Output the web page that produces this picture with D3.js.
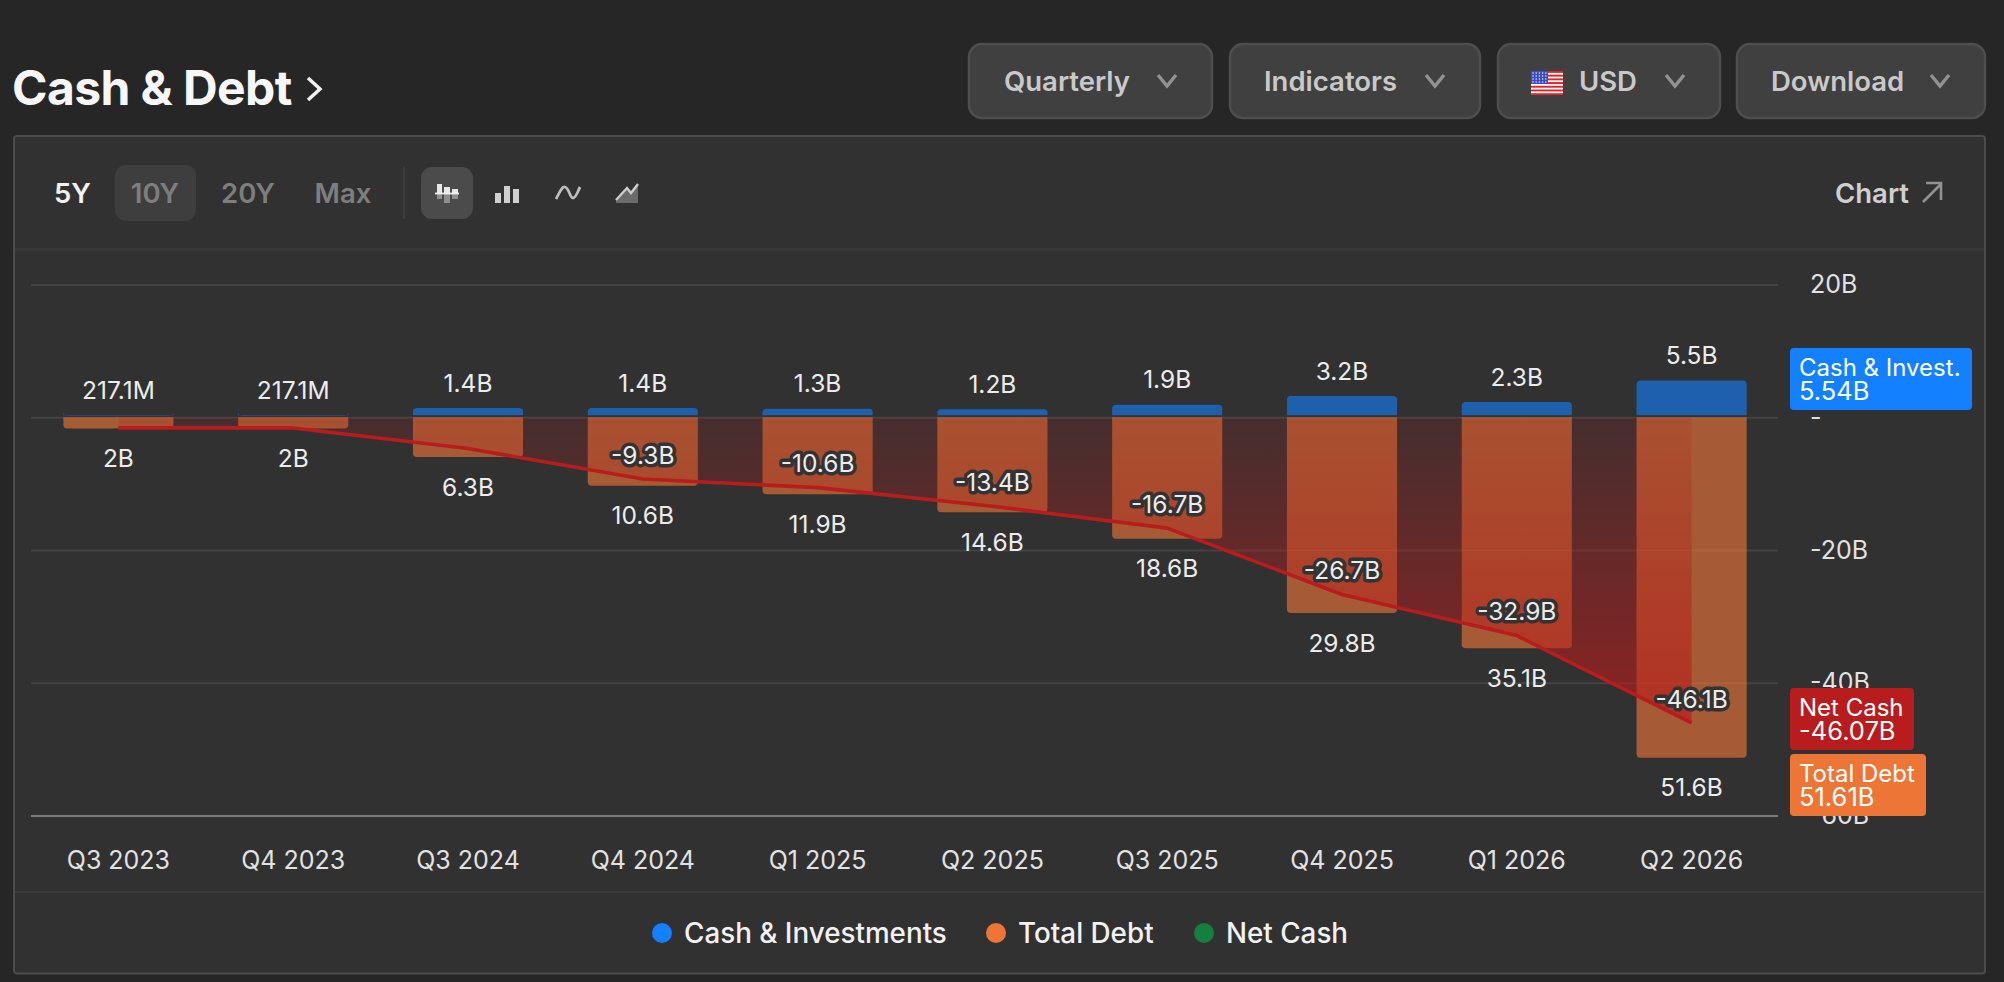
<!DOCTYPE html>
<html>
<head>
<meta charset="utf-8">
<title>Cash & Debt</title>
<script src="https://cdn.jsdelivr.net/npm/d3@7"></script>
<style>
  html, body { margin: 0; padding: 0; background: #262626; overflow: hidden; }
  svg { display: block; font-family: Inter, "Noto Sans", sans-serif; }
  .axis text { fill: #e2e2e2; font-size: 25px; font-family: Inter, sans-serif; }
  .chrome { font-weight: 600; font-size: 27.5px; }
</style>
</head>
<body>
<svg></svg>
<script>
const quarters = ["Q3 2023", "Q4 2023", "Q3 2024", "Q4 2024", "Q1 2025", "Q2 2025", "Q3 2025", "Q4 2025", "Q1 2026", "Q2 2026"];
const cashValues = [0.2171, 0.2171, 1.4, 1.4, 1.3, 1.2, 1.9, 3.2, 2.3, 5.54];
const debtValues = [2, 2, 6.3, 10.6, 11.9, 14.6, 18.6, 29.8, 35.1, 51.61];
const netValues = [-1.6, -1.6, -4.7, -9.3, -10.6, -13.4, -16.7, -26.7, -32.9, -46.07];

const cashLabels = ["217.1M", "217.1M", "1.4B", "1.4B", "1.3B", "1.2B", "1.9B", "3.2B", "2.3B", "5.5B"];
const debtLabels = ["2B", "2B", "6.3B", "10.6B", "11.9B", "14.6B", "18.6B", "29.8B", "35.1B", "51.6B"];
const netLabels = ["", "", "", "-9.3B", "-10.6B", "-13.4B", "-16.7B", "-26.7B", "-32.9B", "-46.1B"];

const yTicks = [20, 0, -20, -40, -60];
const yTickLabels = ["20B", "-", "-20B", "-40B", "-60B"];

const headerButtons = ["Quarterly", "Indicators", "USD", "Download"];
const rangeButtons = ["5Y", "10Y", "20Y", "Max"];
const legendItems = ["Cash & Investments", "Total Debt", "Net Cash"];

const blue = "#1280ff";
const orange = "#ed7637";
const red = "#b91c1c";
const green = "#15803d";

const svg = d3.select("svg").attr("width", 2004).attr("height", 982);

// panel + page furniture
svg.append("rect").attr("width", 2004).attr("height", 982).attr("fill", "#262626");
svg.append("rect")
  .attr("x", 14).attr("y", 136).attr("width", 1971).attr("height", 837.5).attr("rx", 3)
  .attr("fill", "#313131").attr("stroke", "#4c4c4c").attr("stroke-width", 2);
[249.5, 892].forEach((y) => {
  svg.append("line").attr("x1", 15).attr("x2", 1984).attr("y1", y).attr("y2", y)
    .attr("stroke", "#3c3c3c").attr("stroke-width", 2);
});

// title
svg.append("text").attr("x", 12).attr("y", 105)
  .attr("fill", "#f7f7f7").attr("font-size", 48).attr("font-weight", 700).attr("letter-spacing", -0.6)
  .text("Cash & Debt");
svg.append("path").attr("d", "M308 78 L320 89 L308 100")
  .attr("fill", "none").attr("stroke", "#f2f2f2").attr("stroke-width", 3.5);

// header dropdowns
const buttonBoxes = [[969, 243, 1004], [1230, 250, 1264], [1498, 222, 1579], [1737, 248, 1771]];
const chevron = (g, cx, cy, stroke) => {
  g.append("path").attr("d", `M${cx - 9} ${cy - 6} L${cx} ${cy + 5} L${cx + 9} ${cy - 6}`)
    .attr("fill", "none").attr("stroke", stroke).attr("stroke-width", 3.4);
};
headerButtons.forEach((label, i) => {
  const [bx, bw, tx] = buttonBoxes[i];
  svg.append("rect").attr("x", bx).attr("y", 44).attr("width", bw).attr("height", 74).attr("rx", 13)
    .attr("fill", "#404040").attr("stroke", "#4e4e4e").attr("stroke-width", 2.5);
  svg.append("text").attr("class", "chrome").attr("x", tx).attr("y", 81.5)
    .attr("dy", "0.35em").attr("fill", "#c9c9c9").text(label);
  chevron(svg, bx + bw - 45, 81, "#929292");
});

// little US flag
const flag = svg.append("g").attr("transform", "translate(1531,71)");
flag.append("rect").attr("width", 32).attr("height", 24).attr("fill", "#fff");
d3.range(0, 7).forEach((i) => {
  flag.append("rect").attr("y", i * 3.7).attr("width", 32).attr("height", 1.9).attr("fill", "#e0242c");
});
flag.append("rect").attr("width", 17).attr("height", 13).attr("fill", "#3a4cc0");
d3.range(0, 4).forEach((r) => d3.range(0, 5).forEach((c) => {
  flag.append("circle").attr("cx", 2 + c * 3.2).attr("cy", 2 + r * 3).attr("r", 0.8).attr("fill", "#dfe4ff");
}));

// toolbar
svg.append("rect").attr("x", 115).attr("y", 165).attr("width", 81).attr("height", 56).attr("rx", 11).attr("fill", "#3e3e3e");
svg.append("rect").attr("x", 421).attr("y", 167).attr("width", 52).attr("height", 52).attr("rx", 11).attr("fill", "#4b4b4b");
svg.append("line").attr("x1", 404).attr("x2", 404).attr("y1", 167).attr("y2", 219).attr("stroke", "#434343").attr("stroke-width", 1.5);
const rangeX = [72.5, 155, 248, 343];
rangeButtons.forEach((label, i) => {
  svg.append("text").attr("class", "chrome").attr("x", rangeX[i]).attr("y", 193.5)
    .attr("dy", "0.35em").attr("text-anchor", "middle")
    .attr("fill", i === 0 ? "#f2f2f2" : "#7e7e7e").text(label);
});

// toolbar icons
[[437, 184, 5, 6], [444, 187, 6, 10], [452, 189, 6, 6]].forEach(([x, y, w, low]) => {
  svg.append("rect").attr("x", x).attr("y", y).attr("width", w).attr("height", 193 - y).attr("fill", "#e8e8e8");
  svg.append("rect").attr("x", x).attr("y", 193).attr("width", w).attr("height", low).attr("fill", "#8e8e8e");
});
svg.append("line").attr("x1", 435).attr("x2", 459).attr("y1", 193.5).attr("y2", 193.5).attr("stroke", "#f2f2f2").attr("stroke-width", 1.8);
[[495, 193], [504, 186], [513, 189]].forEach(([x, y]) => {
  svg.append("rect").attr("x", x).attr("y", y).attr("width", 6).attr("height", 203 - y).attr("fill", "#d0d0d0");
});
svg.append("path").attr("d", "M556 199 C560 192 562 186 565 187 C569 188 570 198 573 198 C576 198 578 191 580 187")
  .attr("fill", "none").attr("stroke", "#bdbdbd").attr("stroke-width", 2.8);
svg.append("path").attr("d", "M616 203 L616 200 L627 188 L631 193 L638 184 L638 203 Z").attr("fill", "#6b6b6b");
svg.append("path").attr("d", "M616 200 L627 188 L631 193 L638 184")
  .attr("fill", "none").attr("stroke", "#cdcdcd").attr("stroke-width", 2.4);

svg.append("text").attr("class", "chrome").attr("x", 1835).attr("y", 193.5).attr("dy", "0.35em").attr("fill", "#cfcfcf").text("Chart");
svg.append("path").attr("d", "M1923 202 L1941 184 M1926 183 L1941 183 L1941 200")
  .attr("fill", "none").attr("stroke", "#929292").attr("stroke-width", 2.6);

// chart
const x = d3.scaleBand().domain(quarters).range([31, 1779]).paddingInner(0.37).paddingOuter(0.185);
const y = d3.scaleLinear().domain([-60, 20]).range([815.4, 284.6]);
const cx = (i) => x(quarters[i]) + x.bandwidth() / 2;
const gap = 2;

const yAxis = d3.axisRight(y)
  .tickValues(yTicks)
  .tickFormat((d, i) => yTickLabels[i])
  .tickSize(-1747)
  .tickPadding(32);
const yAxisG = svg.append("g").attr("class", "axis").attr("transform", "translate(1778,0)").call(yAxis);
yAxisG.selectAll(".domain").remove();
yAxisG.selectAll(".tick line").attr("stroke", (d) => (d === -60 ? "#7a7a7a" : "#434343")).attr("stroke-width", 2);

const xAxis = d3.axisBottom(x).tickSize(0).tickPadding(0);
const xAxisG = svg.append("g").attr("class", "axis").attr("transform", "translate(0,860)").call(xAxis);
xAxisG.selectAll(".domain").remove();
xAxisG.selectAll("text").attr("dy", "0.35em").attr("y", 0);

// rounded only at the outer end of a bar
const barPath = (x0, w, yFlat, yEnd) => {
  const r = 4;
  const s = yEnd < yFlat ? 1 : -1;
  return `M${x0} ${yFlat} L${x0} ${yEnd + s * r} Q${x0} ${yEnd} ${x0 + r} ${yEnd}` +
    ` L${x0 + w - r} ${yEnd} Q${x0 + w} ${yEnd} ${x0 + w} ${yEnd + s * r} L${x0 + w} ${yFlat} Z`;
};

const bars = svg.append("g");
bars.selectAll(".cash").data(cashValues).enter().append("path")
  .attr("class", "cash")
  .attr("d", (d, i) => barPath(x(quarters[i]), x.bandwidth(), y(0) - gap, y(d)))
  .attr("fill", blue).attr("fill-opacity", 0.6);
bars.selectAll(".debt").data(debtValues).enter().append("path")
  .attr("class", "debt")
  .attr("d", (d, i) => barPath(x(quarters[i]), x.bandwidth(), y(0), y(-d) - gap))
  .attr("fill", orange).attr("fill-opacity", 0.62);

// net cash area + line
const defs = svg.append("defs");
const grad = defs.append("linearGradient").attr("id", "netFill")
  .attr("gradientUnits", "userSpaceOnUse")
  .attr("x1", 0).attr("x2", 0).attr("y1", y(0)).attr("y2", y(d3.min(netValues)));
grad.append("stop").attr("offset", 0).attr("stop-color", red).attr("stop-opacity", 0.15);
grad.append("stop").attr("offset", 1).attr("stop-color", red).attr("stop-opacity", 0.68);

const area = d3.area().x((d, i) => cx(i)).y0(y(0)).y1((d) => y(d));
const line = d3.line().x((d, i) => cx(i)).y((d) => y(d));
svg.append("path").attr("d", area(netValues)).attr("fill", "url(#netFill)");
svg.append("path").attr("d", line(netValues))
  .attr("fill", "none").attr("stroke", red).attr("stroke-width", 3.6).attr("stroke-linejoin", "round");

// value labels
const labelG = svg.append("g").attr("font-size", 24.5).attr("fill", "#ececec").attr("text-anchor", "middle");
labelG.selectAll(".cash-label").data(cashLabels).enter().append("text")
  .attr("x", (d, i) => cx(i)).attr("y", (d, i) => y(cashValues[i]) - 25).attr("dy", "0.35em").text((d) => d);
labelG.selectAll(".debt-label").data(debtLabels).enter().append("text")
  .attr("x", (d, i) => cx(i)).attr("y", (d, i) => y(-debtValues[i]) + 28).attr("dy", "0.35em").text((d) => d);
labelG.selectAll(".net-label").data(netLabels).enter().append("text")
  .attr("x", (d, i) => cx(i)).attr("y", (d, i) => y(netValues[i]) - 24).attr("dy", "0.35em")
  .attr("stroke", "#333").attr("stroke-width", 7).attr("stroke-linejoin", "round").attr("paint-order", "stroke")
  .text((d) => d);

// end-of-series tags
const tags = [
  { name: "Cash & Invest.", value: "5.54B", color: blue, top: 348, w: 182 },
  { name: "Net Cash", value: "-46.07B", color: red, top: 688, w: 124 },
  { name: "Total Debt", value: "51.61B", color: orange, top: 754, w: 136 },
];
tags.forEach((t) => {
  svg.append("rect").attr("x", 1790).attr("y", t.top).attr("width", t.w).attr("height", 62).attr("rx", 4).attr("fill", t.color);
  svg.append("text").attr("x", 1799).attr("y", t.top + 20).attr("dy", "0.35em").attr("font-size", 24).attr("fill", "#fff").text(t.name);
  svg.append("text").attr("x", 1799).attr("y", t.top + 43).attr("dy", "0.35em").attr("font-size", 25.5).attr("fill", "#fff").text(t.value);
});

// legend
const legendColors = [blue, orange, green];
const legendDotX = [662, 996, 1204];
legendItems.forEach((label, i) => {
  svg.append("circle").attr("cx", legendDotX[i]).attr("cy", 933).attr("r", 10).attr("fill", legendColors[i]);
  svg.append("text").attr("x", legendDotX[i] + 22).attr("y", 933.5).attr("dy", "0.35em")
    .attr("fill", "#f2f2f2").attr("font-size", 27.8).attr("font-weight", 500).text(label);
});
</script>
</body>
</html>
